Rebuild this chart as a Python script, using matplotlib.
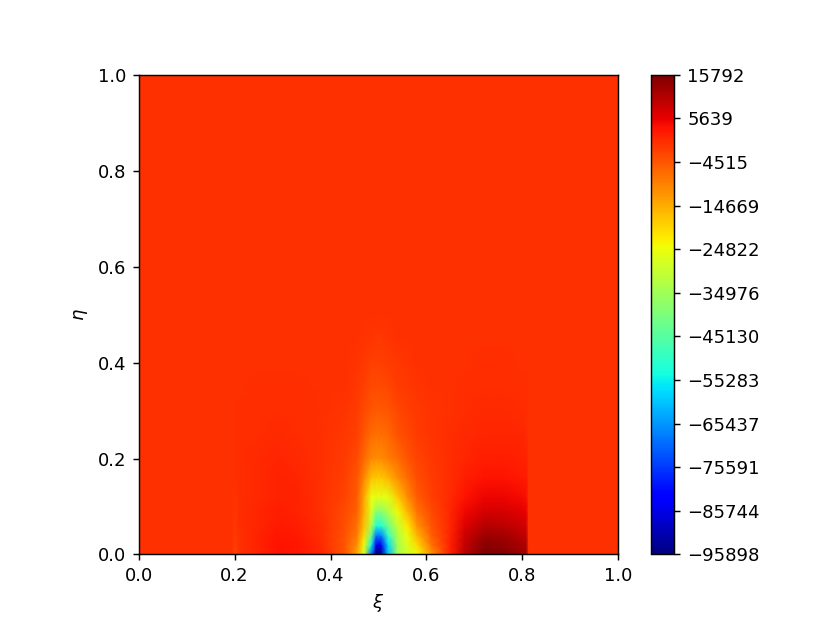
import matplotlib
matplotlib.use('Agg')
import matplotlib.pyplot as plt
import numpy as np

xi = [0, .195, .2, .21, .25, .29, .33, .38, .43, .455, .47, .485, .495, .505,
      .52, .54, .56, .58, .61, .65, .68, .72, .76, .8, .808, .813, 1]
eta = [0, .02, .04, .06, .09, .12, .16, .2, .25, .3, .35, .4, .45, .5, 1]

field = [
    [0, 0, -2500, -200, 1500, 3500, 3000, 1000, -4500, -14000, -28000, -70000, -95898, -95898, -62000, -35000, -29000, -25000, -12000, 2000, 10000, 15792, 15000, 12500, 12000, 0, 0],
    [0, 0, -2000, 0, 1500, 3300, 2800, 800, -4500, -11000, -24000, -55000, -85000, -85000, -58000, -34000, -27000, -20000, -8000, 2000, 9000, 14500, 14000, 11500, 11000, 0, 0],
    [0, 0, -1500, 0, 1400, 3000, 2500, 500, -4000, -9000, -20000, -42000, -68000, -68000, -50000, -33000, -25000, -16000, -6000, 1500, 8000, 12500, 12000, 10000, 9500, 0, 0],
    [0, 0, -1000, 200, 1300, 2700, 2100, 300, -3500, -7500, -17000, -33000, -52000, -52000, -42000, -30000, -22000, -12000, -4500, 1200, 6500, 10500, 10000, 8000, 7500, 0, 0],
    [0, 0, -800, 300, 1100, 2200, 1700, 0, -3000, -6000, -15000, -27000, -38000, -38000, -33000, -24000, -16000, -8000, -3000, 1000, 4500, 7500, 7500, 6000, 5500, 0, 0],
    [0, 0, -500, 300, 900, 1800, 1400, -200, -2500, -5000, -14000, -25000, -26000, -26000, -26000, -18000, -11000, -5500, -2000, 800, 3200, 5300, 5300, 4300, 3800, 0, 0],
    [0, 0, -300, 200, 800, 1400, 1000, -300, -2000, -4500, -10000, -17000, -18000, -18000, -16000, -11000, -7000, -3500, -1500, 500, 2000, 3300, 3300, 2700, 2300, 0, 0],
    [0, 0, -200, 200, 600, 1100, 800, -300, -1500, -3000, -6500, -10500, -11000, -11000, -9500, -7000, -4500, -2500, -1000, 300, 1300, 2200, 2200, 1800, 1500, 0, 0],
    [0, 0, 0, 100, 500, 800, 500, -200, -800, -2000, -4500, -7000, -7500, -7500, -6500, -4200, -2800, -1600, -700, 100, 800, 1300, 1300, 1100, 900, 0, 0],
    [0, 0, 0, 100, 300, 500, 300, -100, -500, -1300, -3000, -4700, -5000, -5000, -4300, -2600, -1800, -1100, -400, 0, 400, 700, 700, 500, 300, 0, 0],
    [0, 0, 0, 0, 100, 200, 100, 0, -300, -800, -1900, -3000, -3200, -3200, -2600, -1500, -900, -600, -200, 0, 100, 300, 300, 200, 100, 0, 0],
    [0, 0, 0, 0, 0, 50, 0, 0, -150, -400, -1100, -1700, -1800, -1800, -1500, -800, -500, -200, -50, 0, 0, 100, 100, 0, 0, 0, 0],
    [0, 0, 0, 0, 0, 0, 0, 0, -50, -200, -400, -700, -800, -800, -650, -350, -150, -50, 0, 0, 0, 0, 0, 0, 0, 0, 0],
    [0, 0, 0, 0, 0, 0, 0, 0, 0, -50, -150, -250, -250, -250, -200, -100, -50, 0, 0, 0, 0, 0, 0, 0, 0, 0, 0],
    [0, 0, 0, 0, 0, 0, 0, 0, 0, 0, 0, 0, 0, 0, 0, 0, 0, 0, 0, 0, 0, 0, 0, 0, 0, 0, 0],
]

cbar_ticks = [15792, 5639, -4515, -14669, -24822, -34976, -45130, -55283,
              -65437, -75591, -85744, -95898]

fig = plt.figure(figsize=(830 / 130, 623 / 130), dpi=130)
ax = fig.add_subplot(111)
mesh = ax.pcolormesh(xi, eta, np.array(field), shading='gouraud', cmap='jet',
                     vmin=min(cbar_ticks), vmax=max(cbar_ticks))
ax.set_aspect('equal')
ax.set_xlim(0, 1)
ax.set_ylim(0, 1)
ax.set_xlabel(r'$\xi$')
ax.set_ylabel(r'$\eta$')

cbar = fig.colorbar(mesh, ax=ax)
cbar.set_ticks(cbar_ticks)
cbar.set_ticklabels([str(t).replace('-', '\u2212') for t in cbar_ticks])

plt.savefig('out.png', dpi=130)
